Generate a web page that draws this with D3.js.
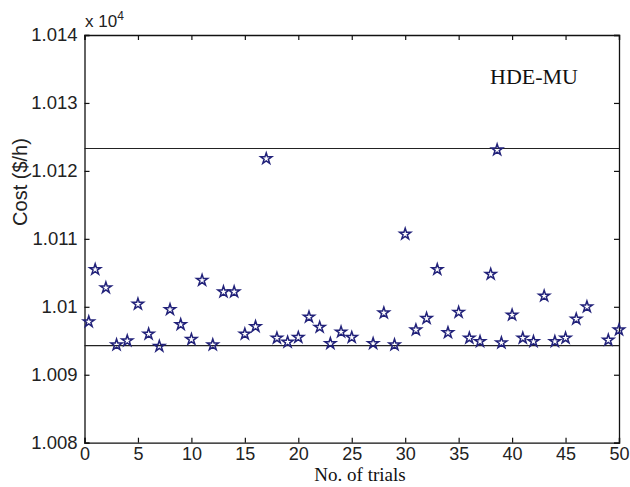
<!DOCTYPE html>
<html>
<head>
<meta charset="utf-8">
<script src="https://cdn.jsdelivr.net/npm/d3@7"></script>
<style>
  body { margin: 0; background: #fff; }
  svg { display: block; }
</style>
</head>
<body>
<div id="chart"></div>
<script>
const width = 630;
const height = 487;

// trial numbers and costs (in $/h; axis shows value x 10^4)
const trials = [0.4, 1, 2, 3, 4, 5, 6, 7, 8, 9, 10, 11, 12, 13, 14, 15, 16, 17, 18, 19, 20,
  21, 22, 23, 24, 25, 27, 28, 29, 30, 31, 32, 33, 34, 35, 36, 37, 38, 38.6, 39, 40,
  41, 42, 43, 44, 45, 46, 47, 49, 50];
const costs = [10097.8, 10105.5, 10102.8, 10094.4, 10095.0, 10100.4, 10096.0, 10094.2, 10099.6, 10097.4, 10095.2,
  10103.9, 10094.4, 10102.2, 10102.2, 10096.0, 10097.1, 10121.8, 10095.4, 10094.8, 10095.5,
  10098.5, 10097.0, 10094.6, 10096.3, 10095.5, 10094.6, 10099.1, 10094.4, 10110.7, 10096.6,
  10098.3, 10105.5, 10096.2, 10099.2, 10095.4, 10094.9, 10104.8, 10123.1, 10094.7, 10098.8,
  10095.4, 10094.9, 10101.6, 10094.9, 10095.4, 10098.2, 10100.0, 10095.1, 10096.6];
const refLines = [10123.3, 10094.3];
const xTicks = [0, 5, 10, 15, 20, 25, 30, 35, 40, 45, 50];
const yTicks = [10080, 10090, 10100, 10110, 10120, 10130, 10140];
const yTickLabels = ['1.008', '1.009', '1.01', '1.011', '1.012', '1.013', '1.014'];

const margin = { left: 84.5, right: 11, top: 35, bottom: 44.3 };

const svg = d3.select('#chart')
  .append('svg')
  .attr('width', width)
  .attr('height', height);

const x = d3.scaleLinear().domain([0, 50]).range([margin.left, width - margin.right]);
const y = d3.scaleLinear().domain([10080, 10140]).range([height - margin.bottom, margin.top]);

const sans = 'Liberation Sans, Arial, sans-serif';
const serif = 'Liberation Serif, Times New Roman, serif';

// axes (ticks inward, box on all four sides)
svg.append('g')
  .attr('transform', `translate(0,${y(10080)})`)
  .call(d3.axisBottom(x).tickValues(xTicks).tickSize(-5).tickPadding(5).tickFormat(d3.format('d')))
  .call(g => g.selectAll('text').attr('font-size', '18px').attr('font-family', sans).attr('fill', '#222'));

svg.append('g')
  .attr('transform', `translate(0,${y(10140)})`)
  .call(d3.axisTop(x).tickValues(xTicks).tickSize(-5).tickFormat(''));

svg.append('g')
  .attr('transform', `translate(${x(0)},0)`)
  .call(d3.axisLeft(y).tickValues(yTicks).tickSize(-5).tickPadding(7)
    .tickFormat((d, i) => yTickLabels[i]))
  .call(g => g.selectAll('text').attr('font-size', '18.5px').attr('font-family', sans).attr('fill', '#222'));

svg.append('g')
  .attr('transform', `translate(${x(50)},0)`)
  .call(d3.axisRight(y).tickValues(yTicks).tickSize(-5).tickFormat(''));

svg.selectAll('.domain').attr('stroke', '#111').attr('stroke-width', 1.3);
svg.selectAll('.tick line').attr('stroke', '#111').attr('stroke-width', 1.2);

// reference lines
svg.append('g')
  .selectAll('line')
  .data(refLines)
  .enter()
  .append('line')
  .attr('x1', x(0))
  .attr('x2', x(50))
  .attr('y1', d => y(d))
  .attr('y2', d => y(d))
  .attr('stroke', '#222')
  .attr('stroke-width', 1.2);

// star markers
const star = d3.symbol().type(d3.symbolStar).size(38);
svg.append('g')
  .selectAll('path')
  .data(trials.map((t, i) => ({ t, c: costs[i] })))
  .enter()
  .append('path')
  .attr('d', star)
  .attr('transform', d => `translate(${x(d.t)},${y(d.c)})`)
  .attr('fill', 'none')
  .attr('stroke', '#22227a')
  .attr('stroke-width', 1.5);

// exponent label
const expo = svg.append('text')
  .attr('x', 85)
  .attr('y', 27)
  .attr('font-family', sans)
  .attr('font-size', '17px')
  .attr('fill', '#222');
expo.append('tspan').text('x 10');
expo.append('tspan').attr('dy', -7).attr('font-size', '12px').text('4');

// axis titles
svg.append('text')
  .attr('transform', 'translate(27,182) rotate(-90)')
  .attr('text-anchor', 'middle')
  .attr('font-family', sans)
  .attr('font-size', '20px')
  .attr('fill', '#222')
  .text('Cost ($/h)');

svg.append('text')
  .attr('x', 360)
  .attr('y', 481)
  .attr('text-anchor', 'middle')
  .attr('font-family', serif)
  .attr('font-size', '19px')
  .attr('fill', '#111')
  .text('No. of trials');

svg.append('text')
  .attr('x', 490)
  .attr('y', 84)
  .attr('font-family', serif)
  .attr('font-size', '22px')
  .attr('fill', '#111')
  .text('HDE-MU');
</script>
</body>
</html>
